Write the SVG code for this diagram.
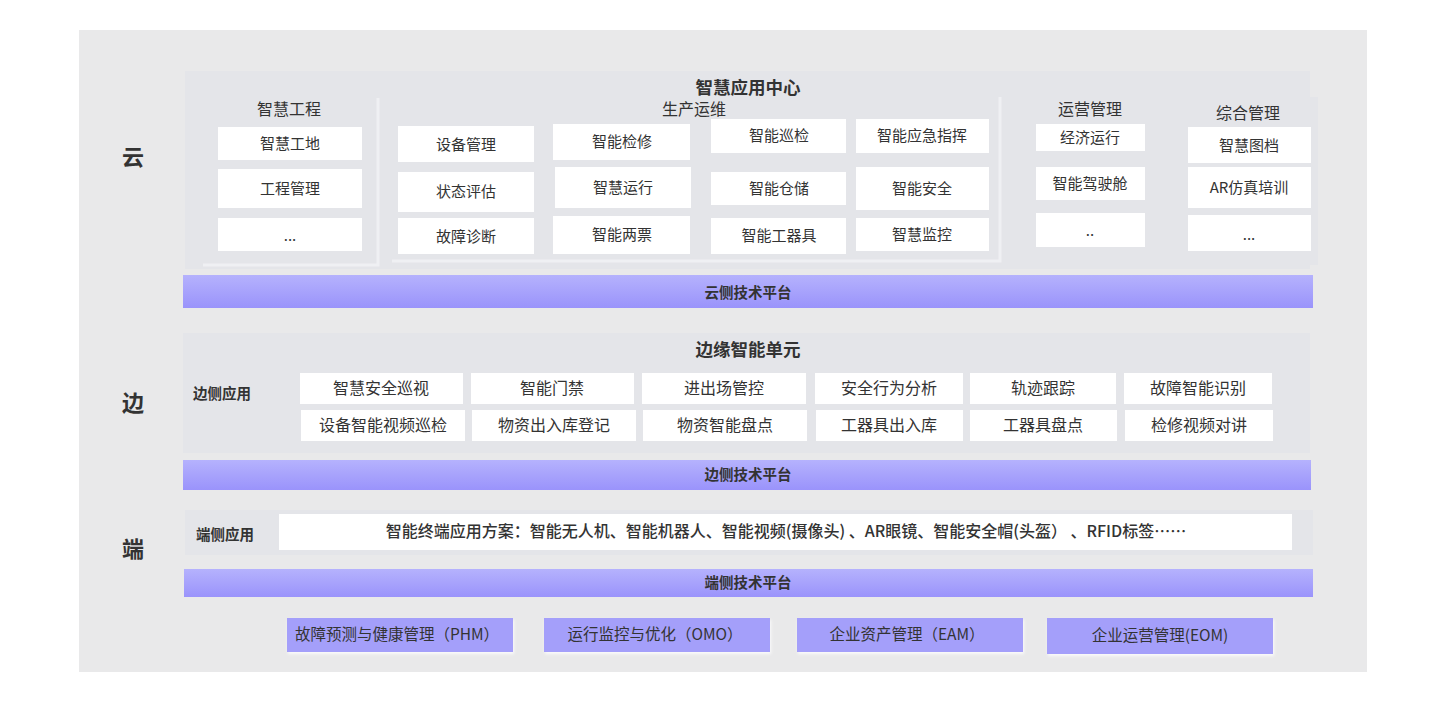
<svg xmlns="http://www.w3.org/2000/svg" width="1440" height="720" viewBox="0 0 1440 720">
<defs>
<linearGradient id="barGrad" x1="0" y1="0" x2="0" y2="1">
<stop offset="0" stop-color="#b5b2fd"/>
<stop offset="1" stop-color="#9a93fb"/>
</linearGradient>
<filter id="sh" x="-10%" y="-20%" width="120%" height="150%">
<feDropShadow dx="1" dy="2" stdDeviation="1.5" flood-color="#ffffff" flood-opacity="0.8"/>
</filter>
</defs>
<style>
text{font-family:"Noto Sans CJK SC","Noto Sans",sans-serif;fill:#333;dominant-baseline:central;text-anchor:middle}
.side{font-size:22px;font-weight:bold}
.title{font-size:17.5px;font-weight:bold}
.cat{font-size:16px}
.lbl{font-size:14.5px;font-weight:bold;text-anchor:start}
.box{fill:#ffffff}
.bt{font-size:15px}
.bt2{font-size:16px}
.panel{fill:#e4e5e9}
.bar{fill:url(#barGrad)}
.bart{font-size:14.5px;font-weight:bold}
.prod{fill:#a49ffa}
.prodt{font-size:15.5px}
</style>
<rect x="0" y="0" width="1440" height="720" fill="#ffffff"/>
<rect x="79" y="30" width="1288" height="642" fill="#e9e9ea"/>

<text class="side" x="133" y="155">云</text>
<text class="side" x="133" y="401">边</text>
<text class="side" x="133" y="547">端</text>

<g id="cloud-panel">
<rect class="panel" x="185" y="71" width="1125" height="198"/>
<rect class="panel" x="1180" y="97" width="138" height="168"/>
<text class="title" x="748" y="86">智慧应用中心</text>
</g>

<g id="zhgc">
<path d="M203 265 H378 V98" fill="none" stroke="#eff0f3" stroke-width="3"/>
<text class="cat" x="289" y="108">智慧工程</text>
<rect class="box" x="218" y="127" width="144" height="33"/><text class="bt" x="290" y="142">智慧工地</text>
<rect class="box" x="218" y="169" width="144" height="39"/><text class="bt" x="290" y="187">工程管理</text>
<rect class="box" x="218" y="218" width="144" height="33"/><text class="bt" x="290" y="234">...</text>
</g>

<g id="scyw">
<path d="M392 261 H1000 V97" fill="none" stroke="#eff0f3" stroke-width="3"/>
<text class="cat" x="694" y="108">生产运维</text>
<rect class="box" x="398" y="126" width="136" height="36"/><text class="bt" x="466" y="143">设备管理</text>
<rect class="box" x="398" y="172" width="136" height="40"/><text class="bt" x="466" y="190">状态评估</text>
<rect class="box" x="398" y="218" width="136" height="36"/><text class="bt" x="466" y="235">故障诊断</text>
<rect class="box" x="553" y="124" width="137" height="36"/><text class="bt" x="622" y="140">智能检修</text>
<rect class="box" x="555" y="167" width="136" height="41"/><text class="bt" x="623" y="186">智慧运行</text>
<rect class="box" x="553" y="216" width="137" height="38"/><text class="bt" x="622" y="233">智能两票</text>
<rect class="box" x="711" y="119" width="135" height="34"/><text class="bt" x="779" y="134">智能巡检</text>
<rect class="box" x="711" y="172" width="135" height="33"/><text class="bt" x="779" y="187">智能仓储</text>
<rect class="box" x="711" y="218" width="135" height="36"/><text class="bt" x="779" y="234">智能工器具</text>
<rect class="box" x="856" y="119" width="133" height="34"/><text class="bt" x="922" y="134">智能应急指挥</text>
<rect class="box" x="856" y="167" width="133" height="43"/><text class="bt" x="922" y="187">智能安全</text>
<rect class="box" x="856" y="218" width="133" height="33"/><text class="bt" x="922" y="233">智慧监控</text>
</g>

<g id="yygl">
<text class="cat" x="1090" y="108">运营管理</text>
<rect class="box" x="1036" y="124" width="109" height="27"/><text class="bt" x="1090" y="136">经济运行</text>
<rect class="box" x="1036" y="167" width="109" height="33"/><text class="bt" x="1090" y="182">智能驾驶舱</text>
<rect class="box" x="1036" y="213" width="109" height="34"/><text class="bt" x="1090" y="229">..</text>
</g>

<g id="zhgl">
<text class="cat" x="1248" y="112">综合管理</text>
<rect class="box" x="1188" y="127" width="123" height="36"/><text class="bt" x="1249" y="144">智慧图档</text>
<rect class="box" x="1188" y="167" width="123" height="41"/><text class="bt" x="1249" y="186">AR仿真培训</text>
<rect class="box" x="1188" y="215" width="123" height="36"/><text class="bt" x="1249" y="233">...</text>
</g>

<g id="cloud-platform">
<rect class="bar" x="183" y="275" width="1130" height="33"/>
<text class="bart" x="748" y="291">云侧技术平台</text>
</g>

<g id="edge-panel">
<rect class="panel" x="183" y="333" width="1127" height="120"/>
<text class="title" x="748" y="348">边缘智能单元</text>
<text class="lbl" x="193" y="392">边侧应用</text>
<rect class="box" x="300" y="373" width="163" height="31"/><text class="bt2" x="381" y="387">智慧安全巡视</text>
<rect class="box" x="471" y="373" width="163" height="31"/><text class="bt2" x="552" y="387">智能门禁</text>
<rect class="box" x="642" y="373" width="164" height="31"/><text class="bt2" x="724" y="387">进出场管控</text>
<rect class="box" x="815" y="373" width="148" height="31"/><text class="bt2" x="889" y="387">安全行为分析</text>
<rect class="box" x="970" y="373" width="146" height="31"/><text class="bt2" x="1043" y="387">轨迹跟踪</text>
<rect class="box" x="1124" y="373" width="148" height="31"/><text class="bt2" x="1198" y="387">故障智能识别</text>
<rect class="box" x="301" y="410" width="164" height="31"/><text class="bt2" x="383" y="424">设备智能视频巡检</text>
<rect class="box" x="472" y="410" width="164" height="31"/><text class="bt2" x="554" y="424">物资出入库登记</text>
<rect class="box" x="643" y="410" width="164" height="31"/><text class="bt2" x="725" y="424">物资智能盘点</text>
<rect class="box" x="816" y="410" width="147" height="31"/><text class="bt2" x="889" y="424">工器具出入库</text>
<rect class="box" x="970" y="410" width="147" height="31"/><text class="bt2" x="1043" y="424">工器具盘点</text>
<rect class="box" x="1125" y="410" width="148" height="31"/><text class="bt2" x="1199" y="424">检修视频对讲</text>
</g>

<g id="edge-platform">
<rect class="bar" x="183" y="460" width="1128" height="30"/>
<text class="bart" x="748" y="473">边侧技术平台</text>
</g>

<g id="terminal-panel">
<rect class="panel" x="185" y="510" width="1128" height="45"/>
<text class="lbl" x="196" y="533">端侧应用</text>
<rect class="box" x="279" y="514" width="1013" height="36"/>
<text class="bt2" x="786" y="530" style="font-weight:500">智能终端应用方案：智能无人机、智能机器人、智能视频(摄像头) 、AR眼镜、智能安全帽(头盔） 、RFID标签……</text>
</g>

<g id="terminal-platform">
<rect class="bar" x="184" y="569" width="1129" height="28"/>
<text class="bart" x="748" y="581">端侧技术平台</text>
</g>

<g id="phm">
<rect class="prod" x="287" y="618" width="226" height="34" filter="url(#sh)"/>
<text class="prodt" x="397" y="633">故障预测与健康管理（PHM）</text>
</g>
<g id="omo">
<rect class="prod" x="544" y="618" width="226" height="34" filter="url(#sh)"/>
<text class="prodt" x="655" y="633">运行监控与优化（OMO）</text>
</g>
<g id="eam">
<rect class="prod" x="797" y="618" width="226" height="34" filter="url(#sh)"/>
<text class="prodt" x="907" y="633">企业资产管理（EAM）</text>
</g>
<g id="eom">
<rect class="prod" x="1047" y="618" width="226" height="36" filter="url(#sh)"/>
<text class="prodt" x="1160" y="634">企业运营管理(EOM)</text>
</g>
<g id="connectors"/>
</svg>
